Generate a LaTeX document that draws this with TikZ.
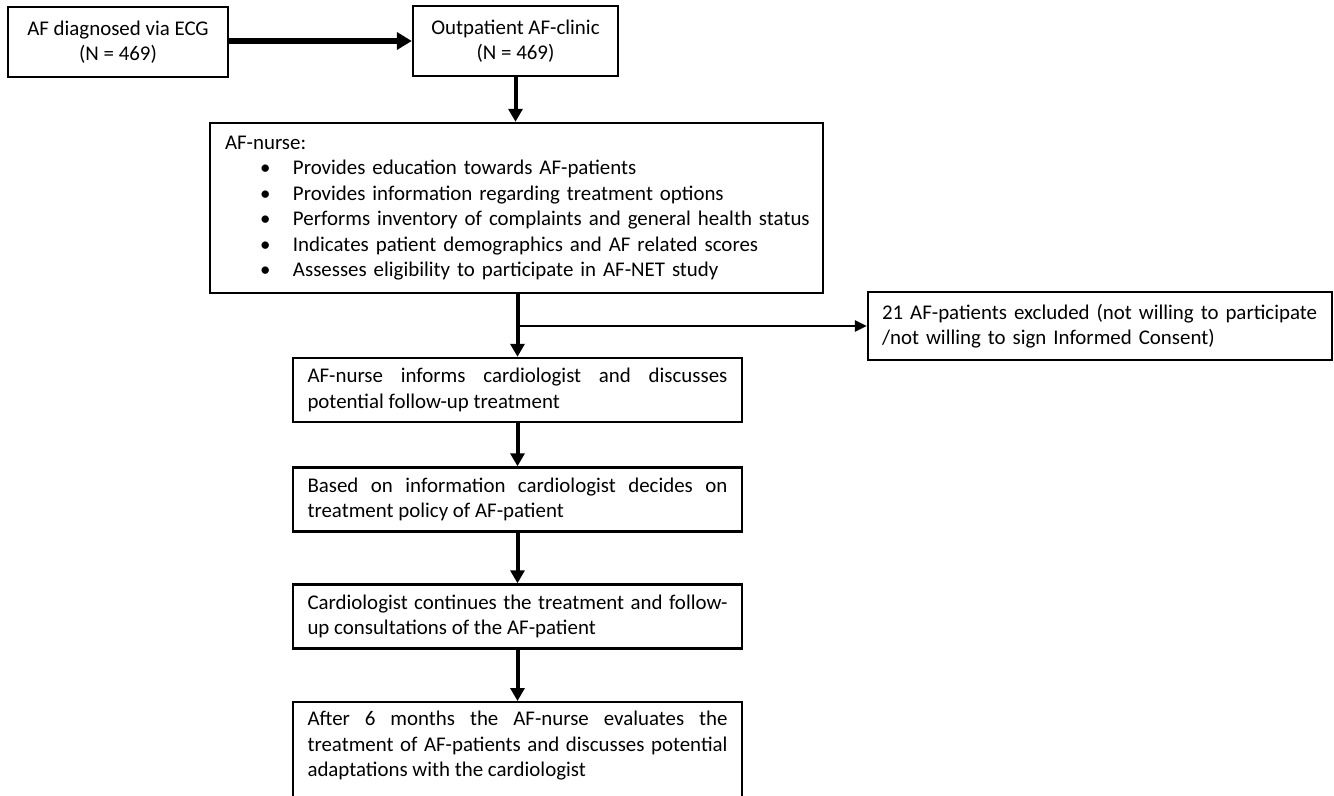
\documentclass[tikz,border=0pt]{standalone}
\usepackage{fontspec}
\setmainfont{Carlito}
\usetikzlibrary{arrows.meta}

\newcommand\nitem[1]{\mbox{\hspace*{17.5pt}\makebox[16.5pt][l]{•}#1}}

\begin{document}
\begin{tikzpicture}[x=0.5pt, y=-0.5pt,
    box/.style={draw, line width=1.2pt, inner sep=0pt, font=\fontsize{10.45pt}{12.75pt}\selectfont},
    flow/.style={box, text width=210pt, align=justify, minimum width=224.5pt, minimum height=32pt},
    main arrow/.style={line width=2pt, -{Triangle[length=6.5pt,width=7pt]}},
    side arrow/.style={line width=1.4pt, -{Triangle[length=6pt,width=5.5pt]}}]
    \useasboundingbox (0,0) rectangle (1334,796);
    \clip (0,0) rectangle (1334,796);

    % top row
    \node[box, minimum width=110pt, minimum height=35pt, align=center] (ecg) at (118,42) {AF diagnosed via ECG\\(N = 469)};
    \node[box, minimum width=102.5pt, minimum height=35pt, align=center] (clinic) at (515.5,41) {Outpatient AF-clinic\\(N = 469)};

    % AF-nurse tasks
    \node[box, minimum width=306.5pt, minimum height=85pt, text width=291.5pt, align=left] (nurse) at (516.5,208) {AF-nurse:\\
        \nitem{Provides education towards AF-patients}\\
        \nitem{Provides information regarding treatment options}\\
        \nitem{Performs inventory of complaints and general health status}\\
        \nitem{Indicates patient demographics and AF related scores}\\
        \nitem{Assesses eligibility to participate in AF-NET study}};

    \node[box, minimum width=232pt, minimum height=34pt, text width=218pt, align=left] (excl) at (1100,326) {\mbox{21 AF-patients excluded (not willing to participate}\\\mbox{/not willing to sign Informed Consent)}};

    % main flow
    \node[flow] (inform) at (517.5,390) {AF-nurse informs cardiologist and discusses\linebreak potential follow-up treatment};
    \node[flow] (based) at (517.5,499.5) {Based on information cardiologist decides on\linebreak treatment policy of AF-patient};
    \node[flow] (cont) at (517.5,616.5) {Cardiologist continues the treatment and follow-\linebreak up consultations of the AF-patient};
    \node[flow, minimum height=0pt, inner ysep=4.6pt, anchor=north] (after) at (517.5,701) {After 6 months the AF-nurse evaluates the\linebreak treatment of AF-patients and discusses potential\linebreak adaptations with the cardiologist\rule[-20pt]{0pt}{0pt}};

    % connectors
    \draw[line width=2.9pt, -{Triangle[length=7.5pt,width=8.5pt]}] (ecg.east |- clinic.west) -- (clinic.west);
    \draw[main arrow] (clinic.south) -- (clinic.south |- nurse.north);
    \draw[main arrow] (inform.north |- nurse.south) -- (inform.north);
    \draw[side arrow] (inform.north |- excl.west) -- (excl.west);
    \draw[main arrow] (inform) -- (based);
    \draw[main arrow] (based) -- (cont);
    \draw[main arrow] (cont) -- (after);
\end{tikzpicture}
\end{document}
